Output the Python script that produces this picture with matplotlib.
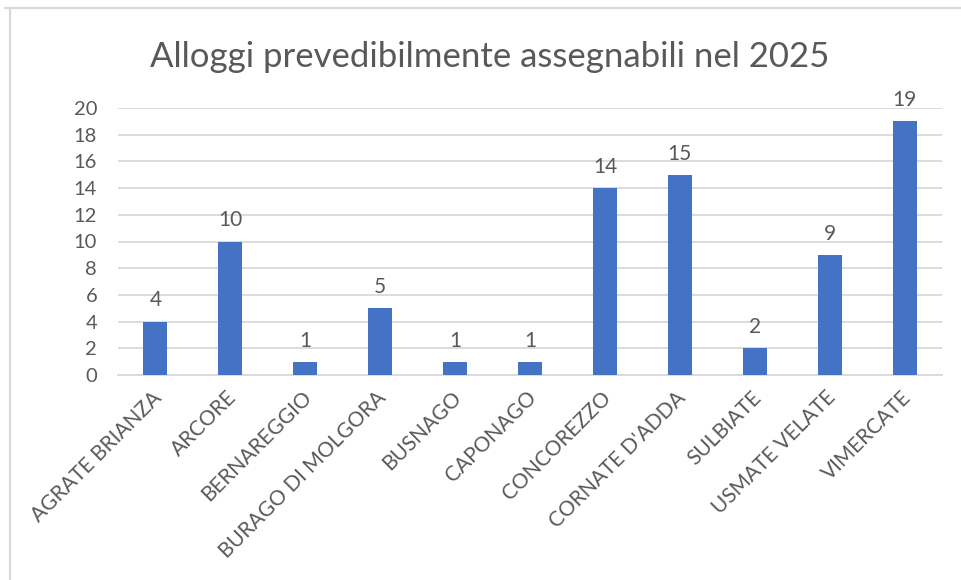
import matplotlib.pyplot as plt
from matplotlib import lines
from matplotlib.transforms import ScaledTranslation

comuni = ["AGRATE BRIANZA", "ARCORE", "BERNAREGGIO", "BURAGO DI MOLGORA",
          "BUSNAGO", "CAPONAGO", "CONCOREZZO", "CORNATE D'ADDA",
          "SULBIATE", "USMATE VELATE", "VIMERCATE"]
alloggi = [4, 10, 1, 5, 1, 1, 14, 15, 2, 9, 19]
yticks = list(range(0, 21, 2))

plt.rcParams['font.family'] = ['Lato', 'DejaVu Sans']
grey = '#595959'

fig = plt.figure(figsize=(9.61, 5.8), dpi=100)
ax = fig.add_axes([118 / 961, 1 - 375 / 580, (942 - 118) / 961, (375 - 108) / 580])

x = range(len(comuni))
bars = ax.bar(x, alloggi, width=0.32, color='#4472C4', zorder=3)
for b, v in zip(bars, alloggi):
    ax.annotate(str(v), (b.get_x() + b.get_width() / 2, v), xytext=(0, 8),
                textcoords='offset points', ha='center', va='bottom',
                fontsize=15, color=grey)

ax.set_xlim(-0.5, len(comuni) - 0.5)
ax.set_ylim(0, 20)
ax.set_yticks(yticks)
ax.yaxis.grid(True, color='#d9d9d9', linewidth=1.3, zorder=0)
ax.tick_params(axis='y', length=0, labelsize=14.5, labelcolor=grey, pad=15)
ax.tick_params(axis='x', length=0, labelsize=15, labelcolor=grey, pad=9)
ax.set_xticks(list(x))
ax.set_xticklabels(comuni, rotation=45, ha='right', rotation_mode='anchor')
shift = ScaledTranslation(-4 / 100, 0, fig.dpi_scale_trans)
for lab in ax.get_xticklabels():
    lab.set_transform(lab.get_transform() + shift)
for s in ['top', 'right', 'left']:
    ax.spines[s].set_visible(False)
ax.spines['bottom'].set_color('#d9d9d9')
ax.spines['bottom'].set_linewidth(1.3)

fig.text(490 / 961, 1 - 57 / 580, "Alloggi prevedibilmente assegnabili nel 2025",
         ha='center', va='center', fontsize=25, color=grey)

# cornice del grafico
fig.add_artist(lines.Line2D([5 / 961, 1], [1 - 8 / 580, 1 - 8 / 580], color='#d9d9d9', lw=1.5))
fig.add_artist(lines.Line2D([10 / 961, 10 / 961], [0, 1 - 8 / 580], color='#d9d9d9', lw=1.5))

fig.savefig('out.png', dpi=100)
